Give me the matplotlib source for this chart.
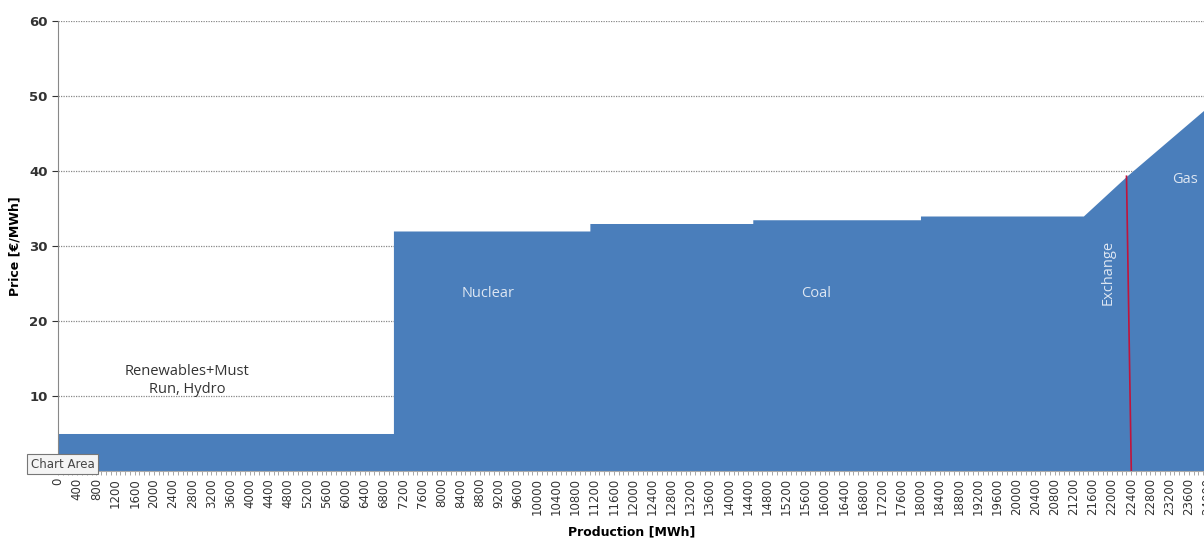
import numpy as np
import matplotlib.pyplot as plt
from matplotlib.ticker import MultipleLocator

# Merit order curve: production (MWh) vs price (EUR/MWh)
producao = [0, 7000, 7000, 11100, 11100, 14500, 14500, 18000, 18000, 21400, 22300, 23950, 24500]
preco = [5, 5, 32, 32, 33, 33, 33.5, 33.5, 34, 34, 39.3, 48.3, 51.2]

# Exchange line (slightly slanted in the original)
troca_x = [22300, 22400]
troca_y = [39.3, 0]

# Labels of the technologies
rotulos = ["Renewables+Must\nRun, Hydro", "Nuclear", "Coal", "Exchange", "Gas"]
rotulos_x = [2700, 8980, 15830, 21920, 23530]
rotulos_y = [12.1, 23.6, 23.6, 26.5, 38.8]

cor_area = "#4a7ebb"

fig = plt.figure(figsize=(12.04, 5.4), dpi=100)
ax = fig.add_axes([0.0482, 0.1278, 0.971, 0.8333])

ax.fill_between(producao, preco, 0, color=cor_area, linewidth=0, zorder=2)
ax.plot(troca_x, troca_y, color="#c0143c", linewidth=1.2, zorder=3)

ax.set_xlim(0, 24400)
ax.set_ylim(0, 60)

ax.set_yticks(range(10, 61, 10))
ax.set_xticks(np.arange(0, 24401, 400))
ax.set_xticklabels([str(v) for v in range(0, 24401, 400)], rotation=90,
                   fontsize=8.5, color="#333333")
ax.xaxis.set_minor_locator(MultipleLocator(100))
ax.tick_params(axis="y", labelsize=9.5, colors="#333333", length=4, width=0.8,
               direction="out")
ax.tick_params(axis="x", which="both", length=3, width=0.6, colors="#999999",
               labelcolor="#333333", pad=2)
for lbl in ax.get_yticklabels():
    lbl.set_fontweight("bold")

ax.grid(axis="y", linestyle=(0, (1, 1)), color="#888888", linewidth=0.9, zorder=1)
ax.set_axisbelow(True)

for lado in ["top", "right"]:
    ax.spines[lado].set_visible(False)
ax.spines["left"].set_color("#888888")
ax.spines["bottom"].set_color("#aaaaaa")

ax.set_ylabel("Price [€/MWh]", fontsize=9, fontweight="bold")
ax.yaxis.set_label_coords(-0.031, 0.5)
ax.set_xlabel("Production [MWh]", fontsize=9, fontweight="bold")
ax.xaxis.set_label_coords((632 - 58) / (1204 * 0.971), -0.12)

# Technology labels
ax.text(rotulos_x[0], rotulos_y[0], rotulos[0], ha="center", va="center",
        fontsize=10.5, color="#333333", linespacing=1.3, family="Open Sans")
for t, x, y in zip(rotulos[1:], rotulos_x[1:], rotulos_y[1:]):
    rot = 90 if t == "Exchange" else 0
    ax.text(x, y, t, ha="center", va="center", fontsize=10.5, color="#dde6f2",
            rotation=rot, family="Open Sans", zorder=4)

# Excel tooltip
fig.text(31 / 1204, 1 - 464 / 540, "Chart Area", fontsize=8.5, color="#444444",
         va="center", ha="left",
         bbox=dict(boxstyle="square,pad=0.3", fc="#f4f4f4", ec="#777777", lw=0.8))

fig.savefig("out.png", dpi=100)
